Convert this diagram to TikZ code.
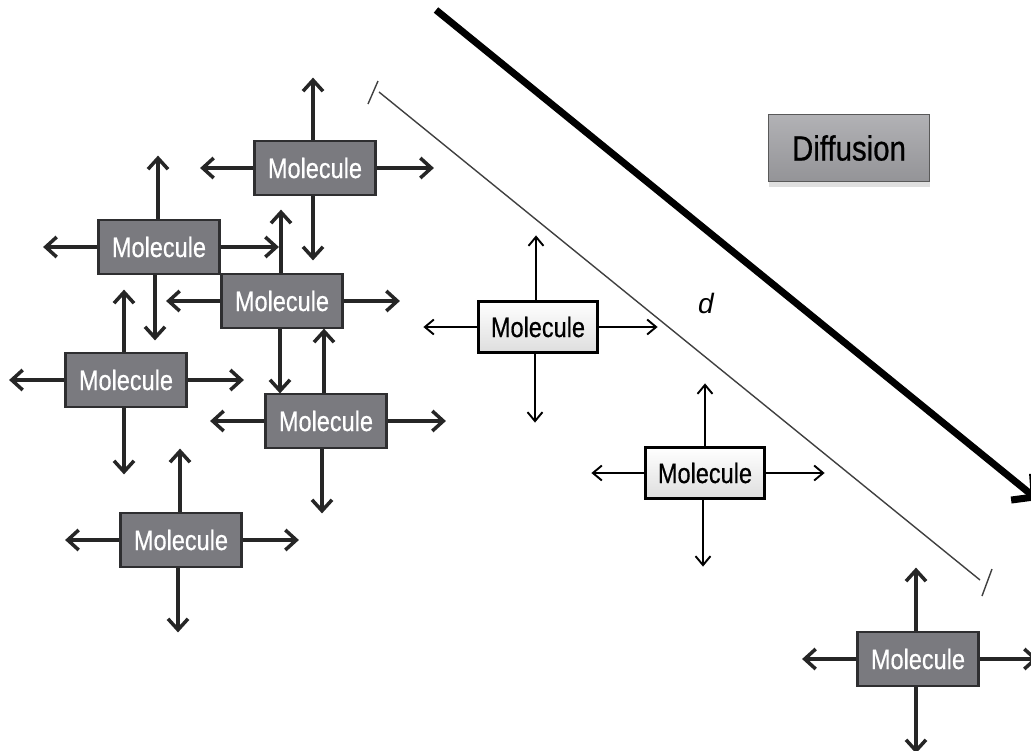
\documentclass[tikz,border=0pt]{standalone}
\usepackage{fontspec}
\setmainfont{Liberation Sans}
\newfontfamily\boxfont[FakeStretch=0.84,FakeBold=0.6]{Liberation Sans}
\usetikzlibrary{arrows.meta,shadows}

\definecolor{molgray}{HTML}{7A7A7F}
\definecolor{molborder}{HTML}{2E2E30}
\definecolor{difgray}{HTML}{A4A4A8}
\definecolor{inkgray}{HTML}{262626}

% four arrows spreading out of a molecule box:
% #1 node, #2 arrow style, #3 up, #4 left, #5 right, #6 down, #7/#8 x-offset of up/down arrows
\newcommand\spreadarrows[8]{%
  \draw[#2] ([xshift=#7pt]#1.north) -- ++(0,-#3);
  \draw[#2] (#1.west) -- ++(-#4,0);
  \draw[#2] (#1.east) -- ++(#5,0);
  \draw[#2] ([xshift=#8pt]#1.south) -- ++(0,#6);
}

\begin{document}
\begin{tikzpicture}[x=1pt,y=-1pt,
  darkmol/.style={draw=molborder, line width=2.8pt, fill=molgray,
    minimum width=121pt, minimum height=54pt, inner sep=0pt,
    text=white, font=\boxfont\fontsize{28}{32}\selectfont},
  lightmol/.style={draw=black, line width=2.2pt, top color=white, bottom color=black!13,
    minimum width=119pt, minimum height=51pt, inner sep=0pt,
    text=black, font=\boxfont\fontsize{28}{32}\selectfont},
  darkarrow/.style={draw=inkgray, line width=3.5pt,
    -{Straight Barb[length=11pt, width=20pt, line width=3.5pt]}},
  lightarrow/.style={draw=black, line width=1.9pt,
    -{Straight Barb[length=9pt, width=15pt, line width=1.9pt]}},
  labelbox/.style={draw=black!65, line width=1.8pt, top color=difgray!85!white, bottom color=difgray!90!black,
    minimum width=161pt, minimum height=67pt, inner sep=0pt,
    font=\boxfont\fontsize{35}{40}\selectfont,
    drop shadow={shadow xshift=0pt, shadow yshift=-5pt, opacity=0.25}},
  gaugeline/.style={draw=black!75, line width=1.4pt},
  flowarrow/.style={draw=black, line width=7pt,
    -{Straight Barb[length=16pt, width=34pt, line width=7pt]}}
]
\fill[white] (0,0) rectangle (1031,750);
\clip (0,0) rectangle (1031,750);

% cluster of molecules
\node[darkmol] (m1) at (315,168) {Molecule};
\node[darkmol] (m2) at (159,247) {Molecule};
\node[darkmol] (m3) at (282,301) {Molecule};
\node[darkmol] (m4) at (126,380) {Molecule};
\node[darkmol] (m5) at (326,421) {Molecule};
\node[darkmol] (m6) at (181,540) {Molecule};
\node[darkmol] (m7) at (918,659) {Molecule};

% molecules moving across the gap
\node[lightmol] (w1) at (538,327) {Molecule};
\node[lightmol] (w2) at (705,473) {Molecule};

\spreadarrows{m1}{darkarrow}{62}{53}{57}{64}{-2}{-2}
\spreadarrows{m2}{darkarrow}{63}{54}{58}{65}{-1}{-4}
\spreadarrows{m3}{darkarrow}{63}{54}{56}{64}{-1}{-2}
\spreadarrows{m4}{darkarrow}{62}{55}{56}{66}{-2}{-2}
\spreadarrows{m5}{darkarrow}{64}{54}{58}{64}{-2}{-4}
\spreadarrows{m6}{darkarrow}{63}{54}{56}{64}{-1}{-3}
\spreadarrows{m7}{darkarrow}{63}{54}{58}{66}{-2}{-2}
\spreadarrows{w1}{lightarrow}{65}{54}{59}{69}{-2}{-3}
\spreadarrows{w2}{lightarrow}{63}{53}{59}{67}{0}{-2}

% label
\node[labelbox] (diff) at (849,148) {Diffusion};

% distance d between the bounding ticks
\coordinate (dA) at (379,92);
\coordinate (dB) at (980,580);
\coordinate (tA1) at (368,104);
\coordinate (tA2) at (378,81);
\coordinate (tB1) at (982,596);
\coordinate (tB2) at (992,569);
\draw[gaugeline] (dA) -- (dB);
\draw[gaugeline] (tA1) -- (tA2);
\draw[gaugeline] (tB1) -- (tB2);
\node[font=\itshape\fontsize{28}{30}\selectfont] (dlab) at (706,303) {d};

% direction of diffusion
\coordinate (fA) at (436,10);
\coordinate (fB) at (1038,500);
\draw[flowarrow] (fA) -- (fB);
\end{tikzpicture}
\end{document}
